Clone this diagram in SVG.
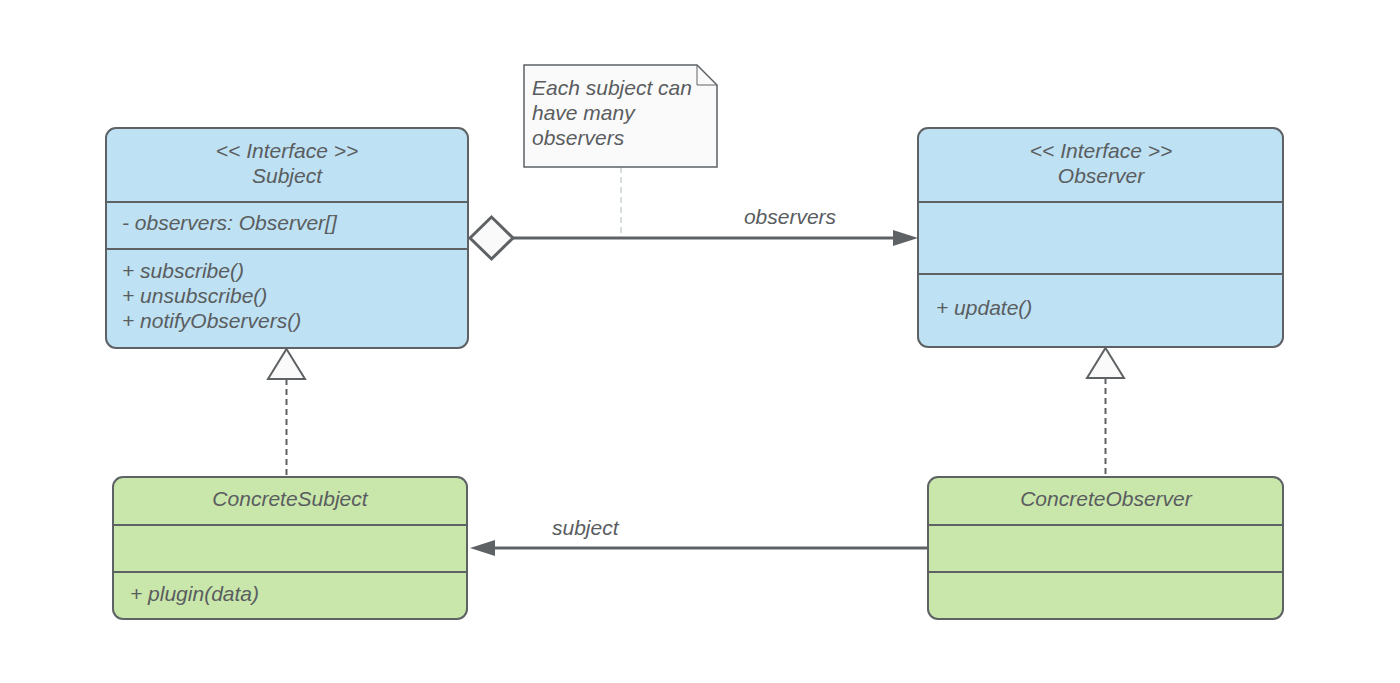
<svg xmlns="http://www.w3.org/2000/svg" width="1400" height="683" viewBox="0 0 1400 683">
<style>
text{font-family:"Liberation Sans",Arial,sans-serif;font-style:italic;font-size:21px;fill:#5a5d5f}
.c{text-anchor:middle}
.box{stroke:#5e6264;stroke-width:2}
.blue{fill:#bee1f3}
.green{fill:#c9e6ab}
.div{stroke:#5e6264;stroke-width:2}
.conn{stroke:#5e6264;stroke-width:3;fill:none}
</style>
<rect width="1400" height="683" fill="#fff"/>
<g id="connectors">
<line x1="621" y1="167" x2="621" y2="237" stroke="#c8d2d4" stroke-width="1.5" stroke-dasharray="6,4"/>
<line class="conn" x1="513" y1="238" x2="893" y2="238"/>
<path d="M893,230 L918,238 L893,246 Z" fill="#5e6264"/>
<path d="M470,238 L491.5,217 L513,238 L491.5,259 Z" fill="#fafafa" stroke="#5e6264" stroke-width="3"/>
<line class="conn" x1="928" y1="548" x2="495" y2="548"/>
<path d="M495,540 L470,548 L495,556 Z" fill="#5e6264"/>
<line x1="286.5" y1="379" x2="286.5" y2="477" stroke="#5e6264" stroke-width="2" stroke-dasharray="6,4"/>
<path d="M286.5,349 L305,379 L268,379 Z" fill="#fafafa" stroke="#5e6264" stroke-width="2"/>
<line x1="1105.5" y1="378" x2="1105.5" y2="477" stroke="#5e6264" stroke-width="2" stroke-dasharray="6,4"/>
<path d="M1105.5,348 L1124,378 L1087,378 Z" fill="#fafafa" stroke="#5e6264" stroke-width="2"/>
<text x="790" y="224" class="c">observers</text>
<text x="552" y="535">subject</text>
</g>
<g id="note">
<path d="M524,65 L697,65 L717,85 L717,167 L524,167 Z" fill="#fafafa" stroke="#5e6264" stroke-width="1.5"/>
<path d="M697,65 L697,85 L717,85" fill="none" stroke="#5e6264" stroke-width="1"/>
<text x="532" y="95">Each subject can</text>
<text x="532" y="120">have many</text>
<text x="532" y="145">observers</text>
</g>
<g id="subject">
<rect class="box blue" x="106" y="128" width="362" height="220" rx="10"/>
<line class="div" x1="106" y1="202" x2="468" y2="202"/>
<line class="div" x1="106" y1="249" x2="468" y2="249"/>
<text x="287" y="158" class="c">&lt;&lt; Interface &gt;&gt;</text>
<text x="287" y="183" class="c">Subject</text>
<text x="122" y="230">- observers: Observer[]</text>
<text x="122" y="278">+ subscribe()</text>
<text x="122" y="303">+ unsubscribe()</text>
<text x="122" y="328">+ notifyObservers()</text>
</g>
<g id="observer">
<rect class="box blue" x="918" y="128" width="365" height="219" rx="10"/>
<line class="div" x1="918" y1="202" x2="1283" y2="202"/>
<line class="div" x1="918" y1="274" x2="1283" y2="274"/>
<text x="1101" y="158" class="c">&lt;&lt; Interface &gt;&gt;</text>
<text x="1101" y="183" class="c">Observer</text>
<text x="936" y="315">+ update()</text>
</g>
<g id="concreteSubject">
<rect class="box green" x="113" y="477" width="354" height="142" rx="10"/>
<line class="div" x1="113" y1="525" x2="467" y2="525"/>
<line class="div" x1="113" y1="572" x2="467" y2="572"/>
<text x="290" y="506" class="c">ConcreteSubject</text>
<text x="130" y="601">+ plugin(data)</text>
</g>
<g id="concreteObserver">
<rect class="box green" x="928" y="477" width="355" height="142" rx="10"/>
<line class="div" x1="928" y1="525" x2="1283" y2="525"/>
<line class="div" x1="928" y1="572" x2="1283" y2="572"/>
<text x="1106" y="506" class="c">ConcreteObserver</text>
</g>
</svg>
